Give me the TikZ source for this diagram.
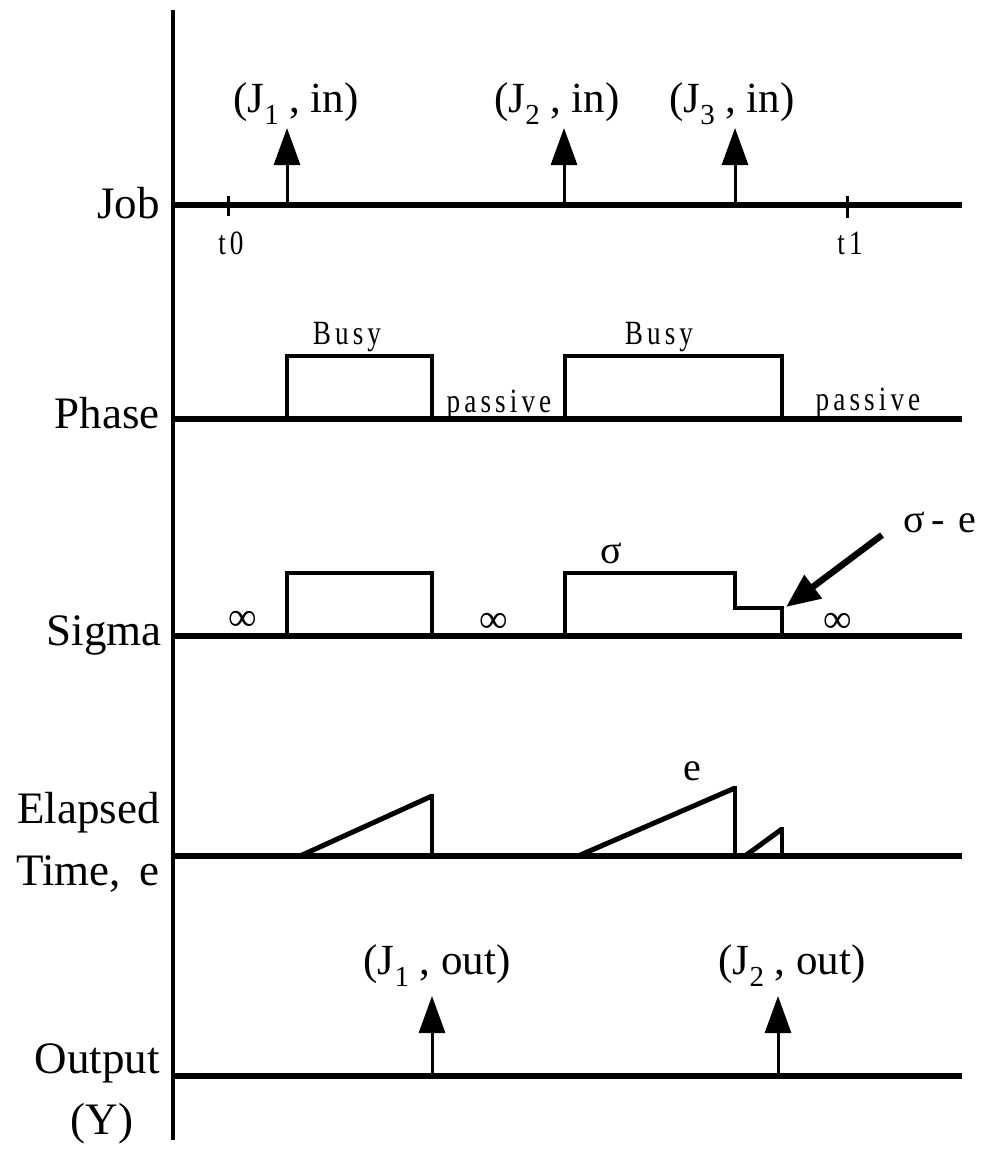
\documentclass[tikz,border=0pt]{standalone}
\usepackage{fontspec}
\setmainfont{Liberation Serif}
\usetikzlibrary{arrows.meta}
\newcommand{\bigf}{\fontsize{45}{45}\selectfont}
\newcommand{\midf}{\fontsize{43}{43}\selectfont}
\newcommand{\smf}{\fontsize{34}{34}\selectfont}
\newcommand{\subone}[1]{\raisebox{-0.28em}{\fontsize{29}{29}\selectfont #1}}
\newcommand{\spaced}[1]{\scalebox{0.8}[1]{\addfontfeature{LetterSpace=15}#1}}
\begin{document}
\begin{tikzpicture}[x=1pt,y=-1pt,
  axisline/.style={line width=6pt},
  vaxis/.style={line width=4.5pt},
  pulse/.style={line width=3.2pt, line join=miter},
  ramp/.style={line width=5pt},
  evtarrow/.style={line width=3pt, -{Triangle[length=37pt,width=26pt]}},
  ptrarrow/.style={line width=6.5pt, -{Triangle[length=34pt,width=28pt]}},
  rowlabel/.style={anchor=base east, inner sep=0pt, font=\bigf},
  evtlabel/.style={anchor=center, inner sep=0pt, font=\midf},
  smalllabel/.style={anchor=base, inner sep=0pt, font=\smf},
  symlabel/.style={anchor=center, inner sep=0pt, font=\fontsize{40}{40}\selectfont}]
\useasboundingbox (0,0) rectangle (989,1149);

% vertical axis
\coordinate (axtop) at (173,10);
\coordinate (axbot) at (173,1140);
\draw[vaxis] (axtop) -- (axbot);

% row base lines
\foreach \nm/\yy in {job/205, phase/419, sigma/636, elapsed/856, output/1076}{
  \coordinate (\nm L) at (171,\yy);
  \coordinate (\nm R) at (962,\yy);
  \draw[axisline] (\nm L) -- (\nm R);
}

% row labels
\node[rowlabel] (ljob) at (160,218) {Job};
\node[rowlabel] (lphase) at (160,428) {Phase};
\node[rowlabel] (lsigma) at (162,645) {Sigma};
\node[rowlabel] (lel) at (160,823) {Elapsed};
\node[rowlabel] (ltime) at (160,885) {Time,\, e};
\node[rowlabel] (lout) at (160,1073) {Output};
\node[anchor=base, inner sep=0pt, font=\bigf] (ly) at (102,1134) {(Y)};

% Job row: ticks
\coordinate (t0a) at (228,196); \coordinate (t0b) at (228,216);
\coordinate (t1a) at (847,196); \coordinate (t1b) at (847,218);
\draw[line width=3pt] (t0a) -- (t0b);
\draw[line width=3pt] (t1a) -- (t1b);
\node[smalllabel] (lt0) at (231,254) {\spaced{t0}};
\node[smalllabel] (lt1) at (850,254) {\spaced{t1}};

% Job arrows
\coordinate (j1b) at (287,206); \coordinate (j1t) at (287,128);
\coordinate (j2b) at (564,206); \coordinate (j2t) at (564,128);
\coordinate (j3b) at (735,206); \coordinate (j3t) at (735,128);
\draw[evtarrow] (j1b) -- (j1t);
\draw[evtarrow] (j2b) -- (j2t);
\draw[evtarrow] (j3b) -- (j3t);
\node[evtlabel] (lj1) at (296,104) {(J\subone{1} , in)};
\node[evtlabel] (lj2) at (557,104) {(J\subone{2} , in)};
\node[evtlabel] (lj3) at (732,104) {(J\subone{3} , in)};

% Phase row
\draw[pulse] (287,419) -- (287,356) -- (432,356) -- (432,419);
\draw[pulse] (565,419) -- (565,356) -- (782,356) -- (782,419);
\node[smalllabel] (lbusy1) at (347,344) {\spaced{Busy}};
\node[smalllabel] (lbusy2) at (659,344) {\spaced{Busy}};
\node[smalllabel] (lpas1) at (499,412) {\spaced{passive}};
\node[smalllabel] (lpas2) at (868,410) {\spaced{passive}};

% Sigma row
\draw[pulse] (287,636) -- (287,573) -- (432,573) -- (432,636);
\draw[pulse] (565,636) -- (565,573) -- (735,573) -- (735,608) -- (782,608) -- (782,636);
\node[symlabel] (inf1) at (243,621) {∞};
\node[symlabel] (inf2) at (494,623) {∞};
\node[symlabel] (inf3) at (838,623) {∞};
\node[symlabel] (lsig) at (611,553) {σ};
\node[evtlabel, font=\fontsize{40}{40}\selectfont] (lsige) at (940,522) {σ\,-\,\,e};
\coordinate (sigtip) at (786,607);
\coordinate (sigtail) at (882,535);
\draw[ptrarrow] (sigtail) -- (sigtip);

% Elapsed row
\draw[ramp] (300,856) -- (432,796);
\draw[pulse] (432,794) -- (432,856);
\draw[ramp] (578,856) -- (735,788);
\draw[pulse] (735,786) -- (735,856);
\draw[ramp] (745,856) -- (782,829);
\draw[pulse] (782,827) -- (782,856);
\node[symlabel] (le) at (692,771) {e};

% Output row
\coordinate (o1b) at (432,1077); \coordinate (o1t) at (432,996);
\coordinate (o2b) at (778,1077); \coordinate (o2t) at (778,996);
\draw[evtarrow] (o1b) -- (o1t);
\draw[evtarrow] (o2b) -- (o2t);
\node[evtlabel] (lo1) at (437,966) {(J\subone{1} , out)};
\node[evtlabel] (lo2) at (792,966) {(J\subone{2} , out)};
\end{tikzpicture}
\end{document}
